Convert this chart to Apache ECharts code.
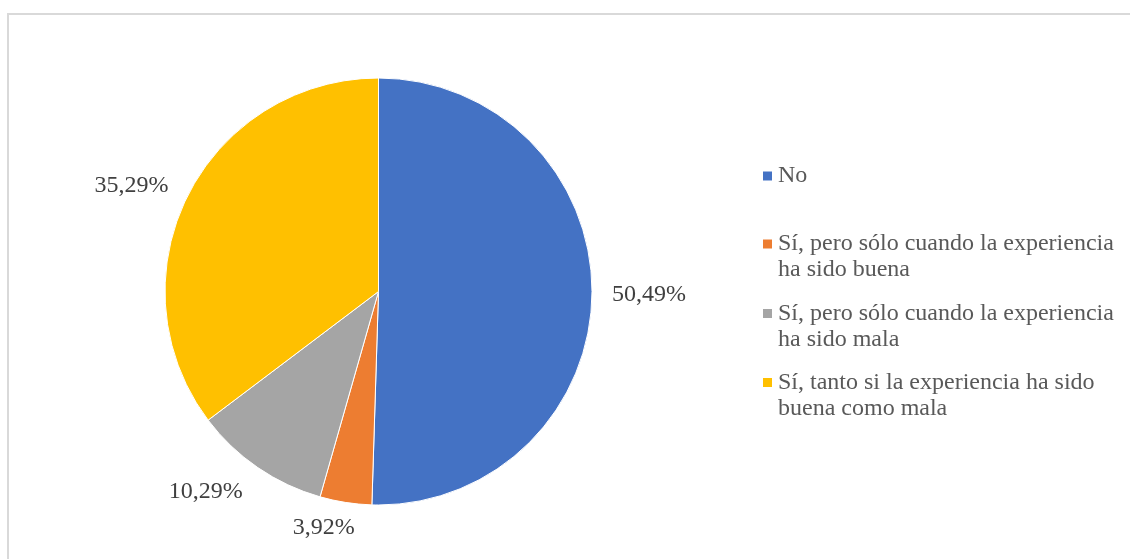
<!DOCTYPE html>
<html>
<head>
<meta charset="utf-8">
<style>
  html, body { margin: 0; padding: 0; background: #ffffff; }
  #chart { width: 1130px; height: 559px; }
</style>
<script src="https://cdn.jsdelivr.net/npm/echarts@6/dist/echarts.min.js"></script>
</head>
<body>
<div id="chart"></div>
<script>
// Answer categories and their share of responses (%)
const categories = [
  'No',
  'Sí, pero sólo cuando la experiencia ha sido buena',
  'Sí, pero sólo cuando la experiencia ha sido mala',
  'Sí, tanto si la experiencia ha sido buena como mala'
];
const shares = [50.49, 3.92, 10.29, 35.29];
const colors = ['#4472C4', '#ED7D31', '#A5A5A5', '#FFC000'];

// Per-slice nudges for the outside percentage labels
const labelNudge = [[15, 0], [14, 25], [-10, 24], [-14, -11]];
// Vertical placement of each legend entry
const legendTops = [163, 205, 274.5, 343.5];

const FONT = "'Liberation Serif', 'Times New Roman', serif";
const LINE = 26;
const MAX_CHARS = 35;

// Greedy word wrap; multi-line entries get a leading blank line so the
// swatch lines up with the first line of text.
function wrapLegend(name) {
  const words = name.split(' ');
  const lines = [];
  let cur = '';
  words.forEach(w => {
    const next = cur ? cur + ' ' + w : w;
    if (next.length > MAX_CHARS && cur) { lines.push(cur); cur = w; }
    else cur = next;
  });
  if (cur) lines.push(cur);
  if (lines.length === 1) return lines[0];
  return '\n' + lines.join('\n');
}

const chart = echarts.init(document.getElementById('chart'), null, { renderer: 'canvas' });

const legends = categories.map((name, i) => ({
  data: [name],
  orient: 'vertical',
  left: 761,
  top: legendTops[i],
  padding: 0,
  icon: 'rect',
  itemWidth: 11,
  itemHeight: 11,
  selectedMode: false,
  formatter: wrapLegend,
  textStyle: {
    fontFamily: FONT,
    fontSize: 24,
    lineHeight: LINE,
    color: '#595959'
  }
}));

chart.setOption({
  animation: false,
  color: colors,
  graphic: [{
    type: 'rect',
    shape: { x: 8, y: 14, width: 1124, height: 560 },
    style: { fill: 'none', stroke: '#d9d9d9', lineWidth: 2 },
    silent: true
  }],
  legend: legends,
  series: [{
    type: 'pie',
    center: [378.5, 291.5],
    radius: 213.5,
    startAngle: 90,
    clockwise: true,
    avoidLabelOverlap: false,
    itemStyle: { borderColor: '#ffffff', borderWidth: 1 },
    label: {
      show: true,
      position: 'outside',
      fontFamily: FONT,
      fontSize: 24,
      color: '#404040',
      formatter: p => p.value.toFixed(2).replace('.', ',') + '%'
    },
    labelLine: { show: false, length: 0, length2: 0 },
    labelLayout: p => ({ dx: labelNudge[p.dataIndex][0], dy: labelNudge[p.dataIndex][1] }),
    emphasis: { disabled: true },
    data: categories.map((name, i) => ({ name, value: shares[i] }))
  }]
});
</script>
</body>
</html>
